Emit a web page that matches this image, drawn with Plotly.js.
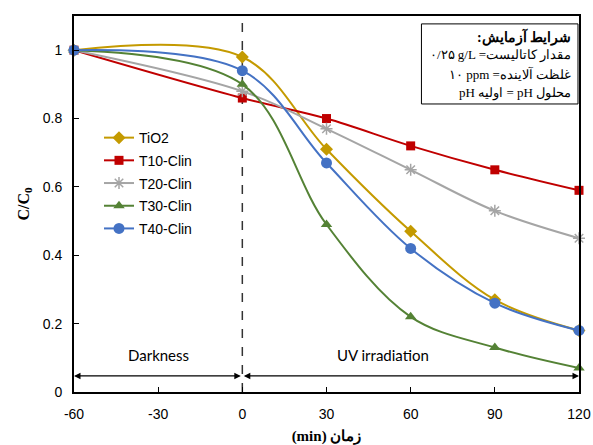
<!DOCTYPE html>
<html><head><meta charset="utf-8">
<script src="https://cdn.plot.ly/plotly-3.0.1.min.js"></script>
<style>body{margin:0;padding:0;background:#fff}</style>
</head><body>
<div id="chart" style="width:593px;height:445px"></div>
<script>
const time = [-60, 0, 30, 60, 90, 120];
const seriesNames = ["TiO2", "T10-Clin", "T20-Clin", "T30-Clin", "T40-Clin"];
const tio2 = [1.00, 0.98, 0.71, 0.47, 0.27, 0.18];
const t10 = [1.00, 0.86, 0.80, 0.72, 0.65, 0.59];
const t20 = [1.00, 0.88, 0.77, 0.65, 0.53, 0.45];
const t30 = [1.00, 0.90, 0.49, 0.22, 0.13, 0.07];
const t40 = [1.00, 0.94, 0.67, 0.42, 0.26, 0.18];
const xTicks = [-60, -30, 0, 30, 60, 90, 120];
const yTicks = [0, 0.2, 0.4, 0.6, 0.8, 1];
const boxLines = [":شرایط آزمایش", "۰/۲۵ g/L =مقدار کاتالیست", "۱۰ ppm =غلظت آلاینده", "pH اولیه = pH محلول"];

const colors = ["#C49A00", "#C00000", "#A5A5A5", "#548235", "#4472C4"];
const symbols = ["diamond", "square", "asterisk-open", "triangle-up", "circle"];
const sizes = [10, 9, 10, 10, 11];
const values = [tio2, t10, t20, t30, t40];

const traces = values.map((v, i) => ({
  x: time, y: v, name: seriesNames[i], type: "scatter", mode: "lines+markers",
  line: {color: colors[i], width: 2, shape: "spline", smoothing: 1},
  marker: {color: colors[i], symbol: symbols[i], size: sizes[i],
           line: {color: colors[i], width: i === 2 ? 1.5 : 0}},
  legendgroup: "g" + i, cliponaxis: false
}));

const tickFont = {family: "Liberation Sans, Arial, sans-serif", size: 14, color: "#000"};
const serif = "Liberation Serif, Times New Roman, DejaVu Serif, serif";
const LRI = "\u2066", PDI = "\u2069";

const boxY = [0.944, 0.896, 0.846, 0.795];
const boxAnn = boxLines.map((t, i) => ({
  xref: "paper", yref: "paper", x: 0.988, y: boxY[i], xanchor: "right", yanchor: "middle",
  showarrow: false, text: i === 0 ? "<b>" + LRI + t + PDI + "</b>" : LRI + t + PDI,
  font: {family: serif, size: i === 0 ? 14 : 13, color: "#000"}
}));

const layout = {
  width: 593, height: 445,
  margin: {l: 74, r: 14, t: 16, b: 53},
  paper_bgcolor: "#fff", plot_bgcolor: "#fff",
  showlegend: true,
  legend: {x: 0.0495, y: 0.718, xanchor: "left", yanchor: "top",
           font: {family: "Liberation Sans, Arial, sans-serif", size: 14, color: "#000"},
           bgcolor: "rgba(255,255,255,0)", borderwidth: 0, tracegroupgap: 1.5, itemwidth: 30},
  xaxis: {range: [-60, 120], tickvals: xTicks, ticktext: xTicks.map(String),
          ticks: "inside", ticklen: 5, tickcolor: "#000", tickwidth: 1, ticklabelstandoff: 8,
          showline: true, linecolor: "#000", linewidth: 2, mirror: true,
          showgrid: false, zeroline: false, tickfont: tickFont,
          title: {text: LRI + "(min) زمان" + PDI, font: {family: serif, size: 15, color: "#000", weight: "bold"}, standoff: 11}},
  yaxis: {range: [0, 1.1], tickvals: yTicks, ticktext: ["0", "0.2", "0.4", "0.6", "0.8", "1"],
          ticks: "inside", ticklen: 5, tickcolor: "#000", tickwidth: 1, ticklabelstandoff: 7,
          showline: true, linecolor: "#000", linewidth: 2, mirror: true,
          showgrid: false, zeroline: false, tickfont: tickFont,
          title: {text: "C/C<sub>0</sub>", font: {family: serif, size: 16, color: "#000", weight: "bold"}, standoff: 9}},
  shapes: [
    {type: "line", xref: "x", yref: "paper", x0: 0, x1: 0, y0: 0, y1: 1,
     line: {color: "#333", width: 1.5, dash: "dash"}, layer: "below"},
    {type: "rect", xref: "paper", yref: "paper", x0: 0.688, x1: 0.998, y0: 0.766, y1: 0.979,
     line: {color: "#000", width: 1}, fillcolor: "#fff", layer: "above"}
  ],
  annotations: [
    {xref: "x", yref: "y", x: -60, y: 0.047, ax: 0, ay: 0.047, axref: "x", ayref: "y",
     text: "", showarrow: true, arrowhead: 2, arrowside: "end+start", arrowsize: 1, arrowwidth: 1.3, arrowcolor: "#000"},
    {xref: "x", yref: "y", x: 120, y: 0.047, ax: 0, ay: 0.047, axref: "x", ayref: "y",
     text: "", showarrow: true, arrowhead: 2, arrowside: "end+start", arrowsize: 1, arrowwidth: 1.3, arrowcolor: "#000"},
    {xref: "x", yref: "y", x: -30, y: 0.107, text: "Darkness", showarrow: false,
     font: {family: "Lato, Open Sans, sans-serif", size: 15, color: "#000"}},
    {xref: "x", yref: "y", x: 50, y: 0.107, text: "UV irradiation", showarrow: false,
     font: {family: "Lato, Open Sans, sans-serif", size: 15, color: "#000"}}
  ].concat(boxAnn)
};

Plotly.newPlot("chart", traces, layout, {displayModeBar: false, staticPlot: true});
</script>
</body></html>
